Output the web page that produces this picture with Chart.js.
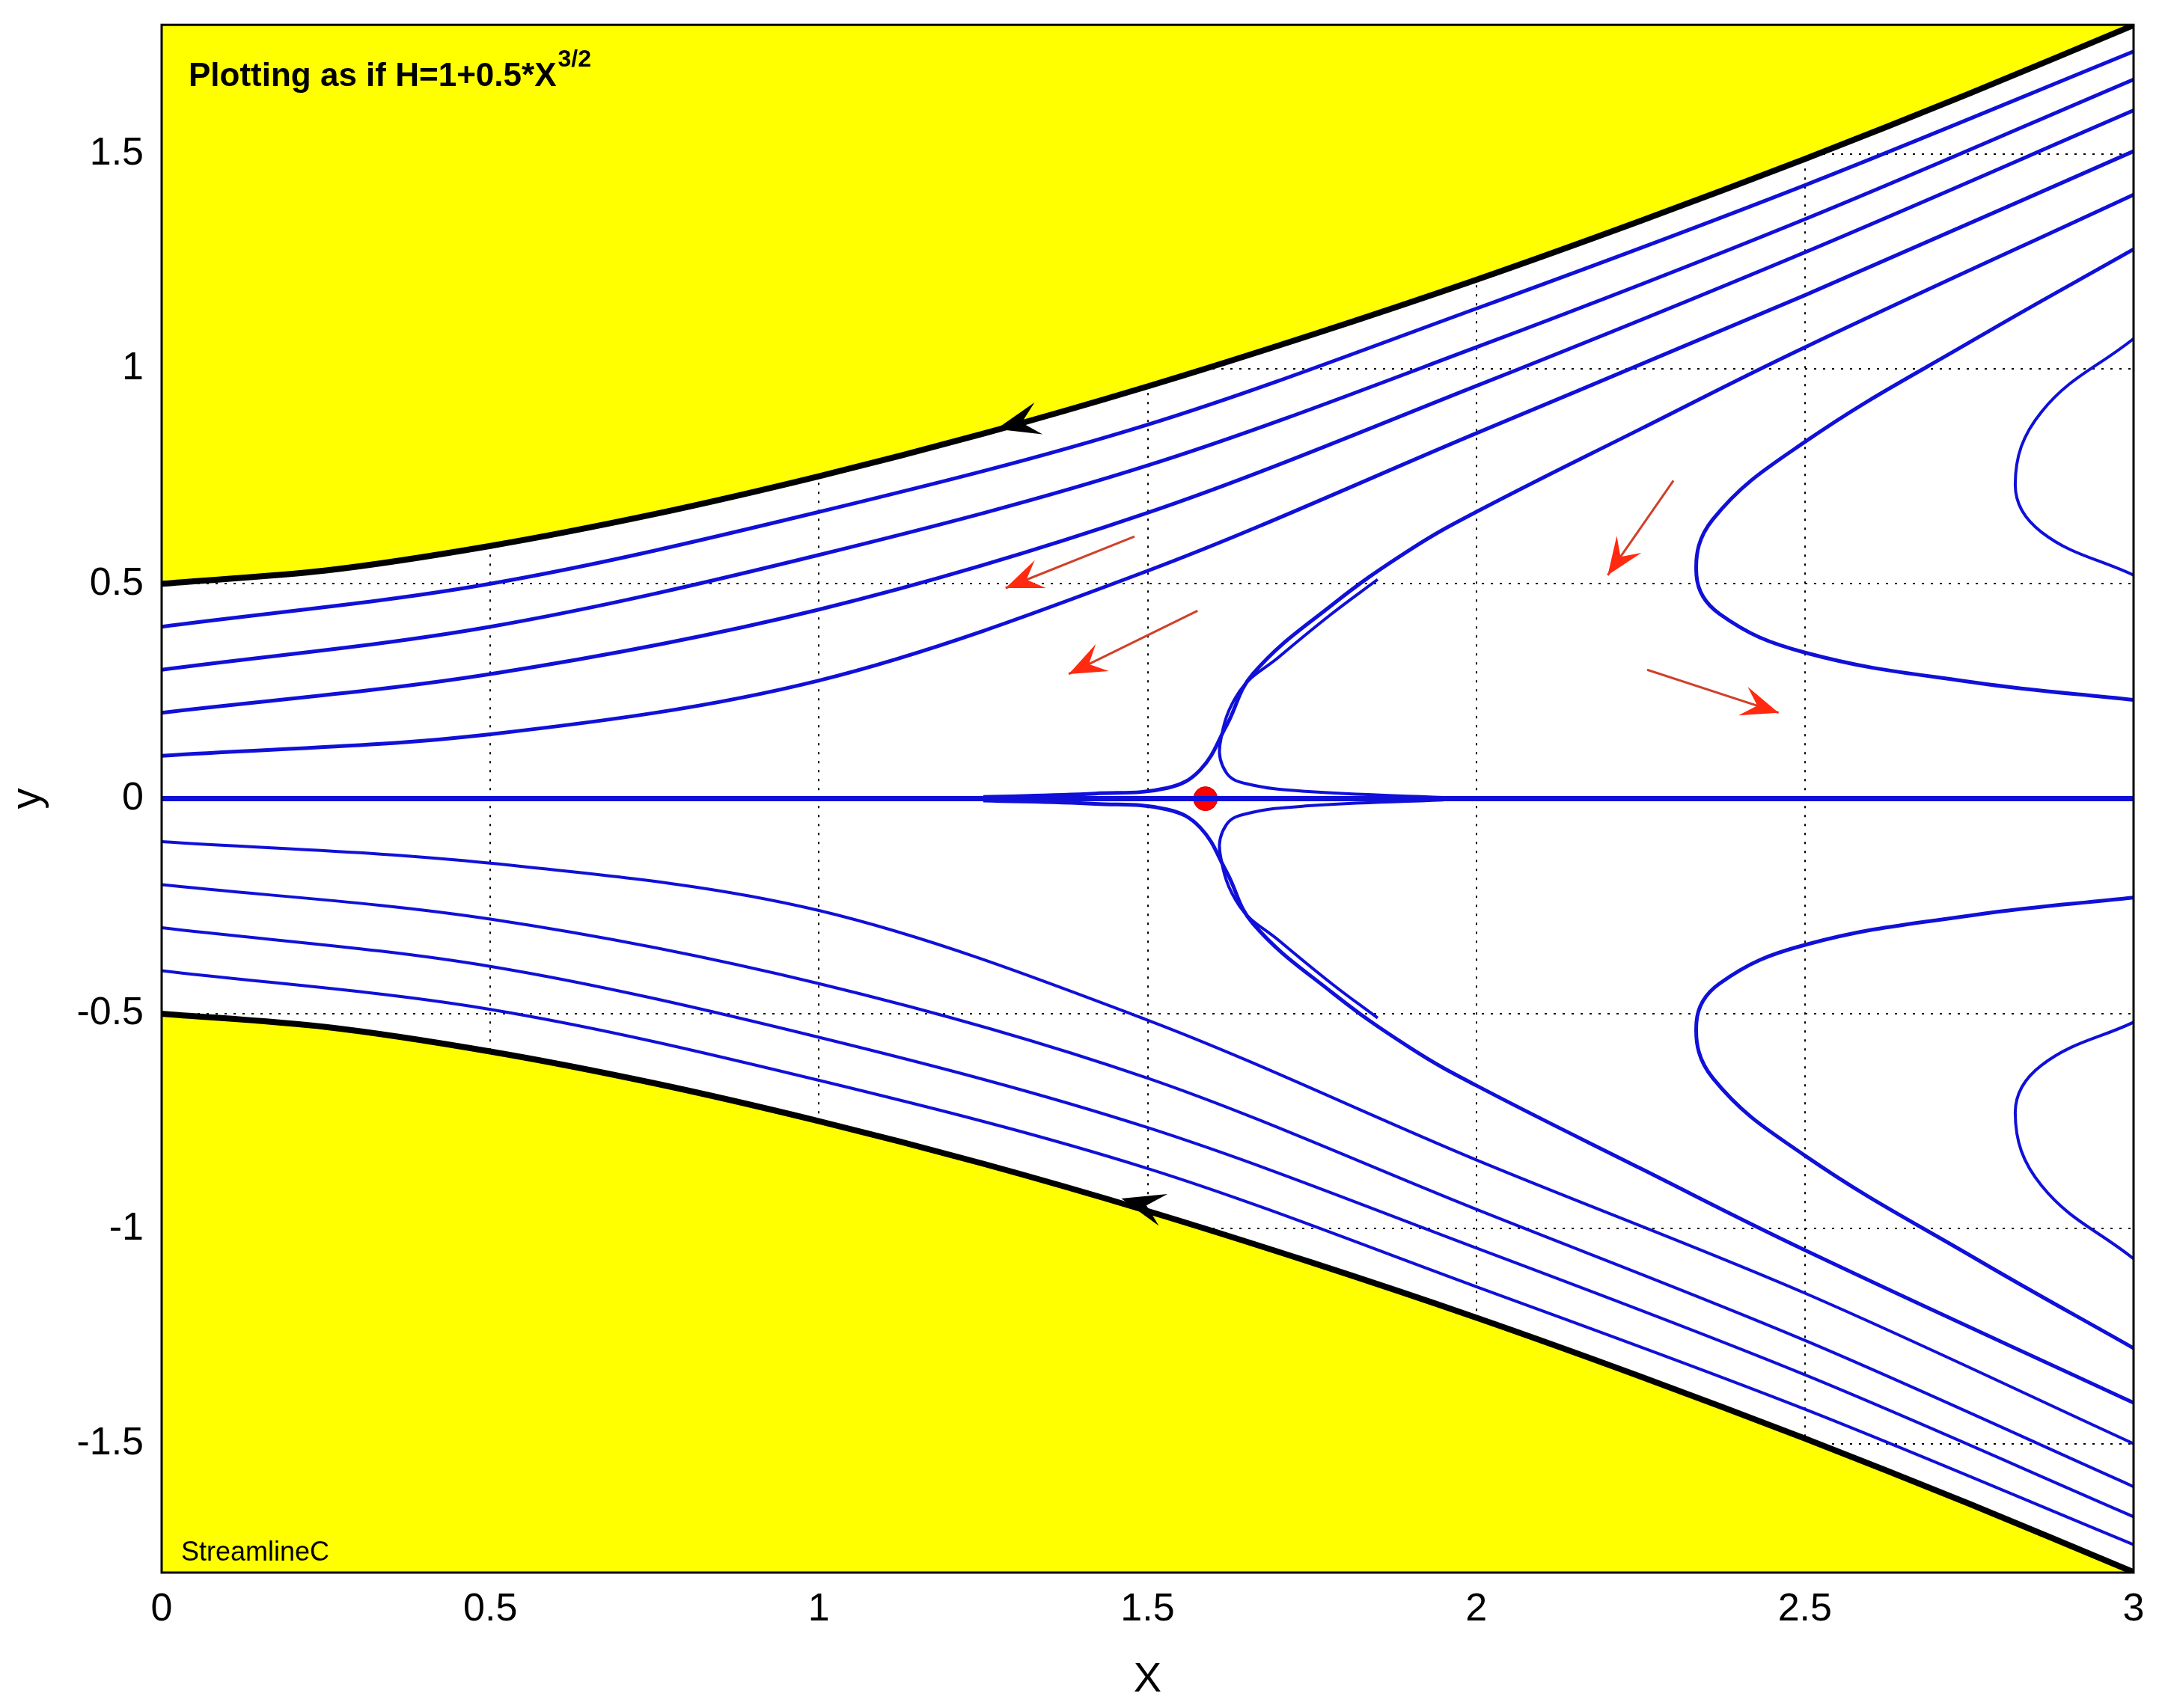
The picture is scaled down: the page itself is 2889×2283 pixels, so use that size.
<!DOCTYPE html>
<html><head><meta charset="utf-8">
<script src="https://cdn.jsdelivr.net/npm/chart.js@4/dist/chart.umd.min.js"></script>
<style>html,body{margin:0;padding:0;background:#fff;overflow:hidden}#w{width:2889px;height:2305px;margin-top:-22px}</style>
</head><body><div id="w"><canvas id="c"></canvas></div>
<script>
// ---- data ----
const boundX = [0,0.25,0.5,0.75,1,1.25,1.5,1.75,2,2.25,2.5,2.75,3];
const boundUpper = [0.5,0.531,0.588,0.662,0.75,0.849,0.959,1.079,1.207,1.344,1.488,1.64,1.799];
const boundLower = [-0.5,-0.531,-0.588,-0.662,-0.75,-0.849,-0.959,-1.079,-1.207,-1.344,-1.488,-1.64,-1.799];
const lineX = [0,0.5,1,1.5,2,2.5,3];
const upper4 = [0.40,0.50,0.667,0.87,1.14,1.427,1.738];
const upper3 = [0.30,0.40,0.567,0.775,1.05,1.348,1.673];
const upper2 = [0.20,0.29,0.44,0.665,0.96,1.271,1.601];
const upper1 = [0.10,0.15,0.275,0.53,0.85,1.171,1.506];
const lower1 = [-0.10,-0.15,-0.26,-0.515,-0.84,-1.15,-1.50];
const lower2 = [-0.20,-0.28,-0.43,-0.65,-0.955,-1.26,-1.60];
const lower3 = [-0.30,-0.39,-0.555,-0.765,-1.045,-1.34,-1.67];
const lower4 = [-0.40,-0.49,-0.655,-0.86,-1.135,-1.42,-1.735];
const axisX = [0,3], axisY = [0,0];
const sepOuterX = [1.25,1.42,1.53,1.58,1.62,1.66,1.78,1.9,2.0,2.25,2.5,3.0];
const sepOuterY = [0.004,0.012,0.025,0.067,0.17,0.29,0.45,0.58,0.667,0.86,1.05,1.405];
const sepInnerX = [1.95,1.74,1.65,1.62,1.61,1.64,1.70,1.78,1.85];
const sepInnerY = [0.003,0.017,0.035,0.06,0.125,0.25,0.33,0.43,0.51];
const hypMidX = [3.0,2.76,2.5,2.36,2.335,2.37,2.5,2.76,3.0];
const hypMidY = [1.278,1.07,0.83,0.65,0.52,0.43,0.34,0.27,0.23];
const hypInX = [3.0,2.86,2.82,2.86,3.0];
const hypInY = [1.07,0.90,0.73,0.62,0.52];
const saddle = [{x:1.588,y:0}];
const blackArrows = [[1.40,0.91,1.27,0.86],[1.58,-0.98,1.46,-0.93]];
const redArrows = [[1.48,0.61,1.284,0.49],[1.576,0.437,1.38,0.29],[2.30,0.74,2.20,0.52],[2.26,0.30,2.46,0.20]];
const xTicks = [0,0.5,1,1.5,2,2.5,3];
const yTicks = [-1.5,-1,-0.5,0,0.5,1,1.5];

const pts = (xs, ys, s=1) => xs.map((x,i)=>({x, y: s*ys[i]}));
const blue = '#1010d8';
const line = (data, w=5, extra={}) => Object.assign({data, showLine:true, borderColor:blue, borderWidth:w, pointRadius:0, fill:false, cubicInterpolationMode:'monotone', tension:0.4}, extra);
const curve = {cubicInterpolationMode:'default'};

const datasets = [
  {data: pts(boundX,boundUpper), showLine:true, borderColor:'#000', borderWidth:8, pointRadius:0, fill:'end', backgroundColor:'#ffff00', tension:0.3},
  {data: pts(boundX,boundLower), showLine:true, borderColor:'#000', borderWidth:8, pointRadius:0, fill:'start', backgroundColor:'#ffff00', tension:0.3},
  line(pts(lineX,upper4)), line(pts(lineX,upper3)), line(pts(lineX,upper2)), line(pts(lineX,upper1)),
  line(pts(lineX,lower1),4), line(pts(lineX,lower2),4), line(pts(lineX,lower3),4), line(pts(lineX,lower4),4),
  line(pts(axisX,axisY),7,{tension:0}),
  line(pts(sepOuterX,sepOuterY),5,curve), line(pts(sepInnerX,sepInnerY),4,curve),
  line(pts(sepOuterX,sepOuterY,-1),5,curve), line(pts(sepInnerX,sepInnerY,-1),4,curve),
  line(pts(hypMidX,hypMidY),5,curve), line(pts(hypMidX,hypMidY,-1),5,curve),
  line(pts(hypInX,hypInY),4,curve), line(pts(hypInX,hypInY,-1),4,curve),
  {data: saddle, pointRadius:16, pointBackgroundColor:'#ff0000', pointBorderColor:'#cc0000', showLine:false}
];

function head(ctx, x1,y1,x2,y2,len,wid,color){
  const a = Math.atan2(y2-y1,x2-x1);
  ctx.fillStyle=color; ctx.beginPath();
  ctx.moveTo(x2,y2);
  ctx.lineTo(x2-len*Math.cos(a)+wid*Math.sin(a), y2-len*Math.sin(a)-wid*Math.cos(a));
  ctx.lineTo(x2-len*0.6*Math.cos(a), y2-len*0.6*Math.sin(a));
  ctx.lineTo(x2-len*Math.cos(a)-wid*Math.sin(a), y2-len*Math.sin(a)+wid*Math.cos(a));
  ctx.closePath(); ctx.fill();
}
const deco = {
  id:'deco',
  afterDatasetsDraw(chart){
    const {ctx, scales:{x,y}, chartArea:a} = chart;
    ctx.save();
    redArrows.forEach(r=>{
      const x1=x.getPixelForValue(r[0]), y1=y.getPixelForValue(r[1]), x2=x.getPixelForValue(r[2]), y2=y.getPixelForValue(r[3]);
      ctx.strokeStyle='#d0402a'; ctx.lineWidth=3; ctx.beginPath(); ctx.moveTo(x1,y1); ctx.lineTo(x2,y2); ctx.stroke();
      head(ctx,x1,y1,x2,y2,50,20,'#ff2a10');
    });
    blackArrows.forEach(b=>{
      const x1=x.getPixelForValue(b[0]), y1=y.getPixelForValue(b[1]), x2=x.getPixelForValue(b[2]), y2=y.getPixelForValue(b[3]);
      head(ctx,x1,y1,x2,y2,58,22,'#000');
    });
    ctx.strokeStyle='#000'; ctx.lineWidth=3; ctx.strokeRect(a.left,a.top,a.right-a.left,a.bottom-a.top);
    ctx.fillStyle='#000'; ctx.textBaseline='alphabetic';
    ctx.font='bold 44px Arial, "Liberation Sans", sans-serif';
    const t='Plotting as if H=1+0.5*X';
    ctx.fillText(t, a.left+36, a.top+82);
    const w=ctx.measureText(t).width;
    ctx.font='bold 32px Arial, "Liberation Sans", sans-serif';
    ctx.fillText('3/2', a.left+36+w+2, a.top+56);
    ctx.font='36px Arial, "Liberation Sans", sans-serif';
    ctx.fillText('StreamlineC', a.left+26, a.bottom-16);
    ctx.restore();
  }
};
Chart.defaults.font.family = 'Arial, "Liberation Sans", sans-serif';
new Chart(document.getElementById('c'), {
  type:'scatter',
  data:{datasets},
  options:{
    responsive:true, maintainAspectRatio:false, animation:false,
    layout:{padding:{top:0,right:38,left:0,bottom:0}},
    plugins:{legend:{display:false}, tooltip:{enabled:false}},
    scales:{
      x:{type:'linear', min:0, max:3,
        afterBuildTicks:s=>{s.ticks=xTicks.map(v=>({value:v}));},
        afterFit:s=>{s.height=181;},
        grid:{color:'#000', lineWidth:2, drawTicks:false},
        border:{display:false, dash:[3,9]},
        ticks:{color:'#000', font:{size:52}, padding:18, maxRotation:0, callback:v=>String(v)},
        title:{display:true, text:'X', color:'#000', font:{size:56}, padding:{top:0}}},
      y:{type:'linear', min:-1.8, max:1.8,
        afterBuildTicks:s=>{s.ticks=yTicks.map(v=>({value:v}));},
        afterFit:s=>{s.width=216;},
        grid:{color:'#000', lineWidth:2, drawTicks:false},
        border:{display:false, dash:[3,9]},
        ticks:{color:'#000', font:{size:52}, padding:24, callback:v=>String(v)},
        title:{display:true, text:'y', color:'#000', font:{size:56}, padding:{bottom:0}}}
    }
  },
  plugins:[deco]
});
</script></body></html>
